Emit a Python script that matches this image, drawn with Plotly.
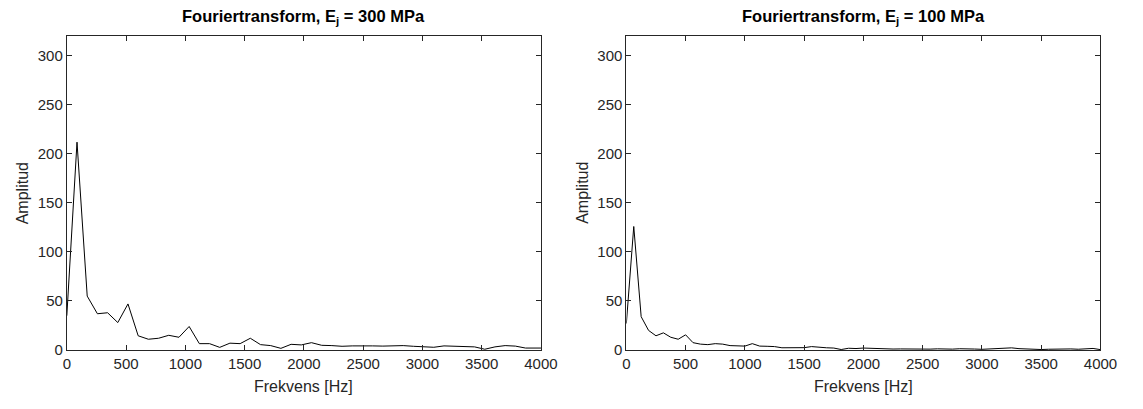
import numpy as np
import plotly.graph_objects as go

# Amplitude spectra for the two joint stiffnesses
df_300 = 86.0
amp_300 = [35, 212, 55, 37, 38, 28, 47, 14.5, 11, 12, 15, 13, 24, 6.5, 6.5, 2.7,
           7, 6.5, 12, 5.5, 4.5, 1.7, 5.8, 5.2, 7.5, 4.8, 4.5, 3.8, 4.2, 4.4, 4.2,
           4.0, 4.2, 4.5, 3.8, 3.6, 2.8, 4.2, 4.0, 3.5, 3.2, 0.8, 3.2, 4.5, 4.0,
           2.0, 1.8, 2.0]

df_100 = 62.5
amp_100 = [27, 126, 34, 20, 14.5, 17.5, 13, 11, 15.5, 7.5, 6, 5.5, 6.5, 6, 4.5,
           4, 4, 6.5, 4, 3.8, 3.5, 2.3, 2.2, 2.2, 2.4, 3.5, 2.7, 2.3, 2, 0.5,
           1.8, 1.5, 2.0, 1.6, 1.2, 1.3, 1.0, 1.1, 0.9, 0.8, 0.6, 0.9, 1.2, 0.8,
           0.9, 1.3, 1.5, 1.0, 0.7, 1.2, 1.3, 1.8, 2.2, 1.4, 0.9, 0.7, 0.5, 0.8,
           1.0, 0.9, 1.1, 0.8, 1.0, 1.6, 0.4]

freq_300 = np.arange(len(amp_300)) * df_300
freq_100 = np.arange(len(amp_100)) * df_100

titles = ["Fouriertransform, E<sub>j</sub> = 300 MPa",
          "Fouriertransform, E<sub>j</sub> = 100 MPa"]
x_label = "Frekvens [Hz]"
y_label = "Amplitud"
x_ticks = list(range(0, 4001, 500))
y_ticks = list(range(0, 301, 50))

W, H = 1143, 409
x_px = [(64, 547), (634, 1117)]
y_top, y_bot = 37, 357

FONT = "Liberation Sans, Arial, sans-serif"
AX_COLOR = "#262626"


def px_x(p):
    return p / W


def px_y(p):
    return 1 - p / H


fig = go.Figure()
fig.add_trace(go.Scatter(x=freq_300, y=amp_300, mode="lines",
                         line=dict(color="black", width=1), xaxis="x", yaxis="y",
                         showlegend=False))
fig.add_trace(go.Scatter(x=freq_100, y=amp_100, mode="lines",
                         line=dict(color="black", width=1), xaxis="x2", yaxis="y2",
                         showlegend=False))

axis_common = dict(showgrid=False, zeroline=False, showline=True, mirror="ticks",
                   linecolor=AX_COLOR, linewidth=1, ticks="inside", ticklen=5,
                   tickcolor=AX_COLOR, tickwidth=1,
                   tickfont=dict(family=FONT, size=15, color=AX_COLOR))

layout = dict(width=W, height=H, margin=dict(l=0, r=0, t=0, b=0),
              paper_bgcolor="white", plot_bgcolor="white",
              font=dict(family=FONT, color=AX_COLOR))

annotations = []
for i, ((x0, x1), title) in enumerate(zip(x_px, titles)):
    sfx = "" if i == 0 else str(i + 1)
    layout["xaxis" + sfx] = dict(axis_common, domain=[px_x(x0), px_x(x1)],
                                 range=[0, 4000], tickvals=x_ticks, anchor="y" + sfx)
    layout["yaxis" + sfx] = dict(axis_common, domain=[px_y(y_bot), px_y(y_top)],
                                 range=[0, 320], tickvals=y_ticks, anchor="x" + sfx)
    xc = px_x((x0 + x1) / 2)
    annotations.append(dict(text="<b>" + title + "</b>", xref="paper", yref="paper",
                            x=xc, y=px_y(17), xanchor="center", yanchor="middle",
                            showarrow=False,
                            font=dict(family=FONT, size=16.5, color="black")))
    annotations.append(dict(text=x_label, xref="paper", yref="paper",
                            x=xc, y=px_y(394), xanchor="center", yanchor="middle",
                            showarrow=False,
                            font=dict(family=FONT, size=16, color=AX_COLOR)))
    annotations.append(dict(text=y_label, xref="paper", yref="paper",
                            x=px_x(x0 - 45.5), y=px_y((y_top + y_bot) / 2),
                            xanchor="center", yanchor="middle", textangle=-90,
                            showarrow=False,
                            font=dict(family=FONT, size=16, color=AX_COLOR)))

layout["annotations"] = annotations
fig.update_layout(**layout)
fig.write_html("out.html")
